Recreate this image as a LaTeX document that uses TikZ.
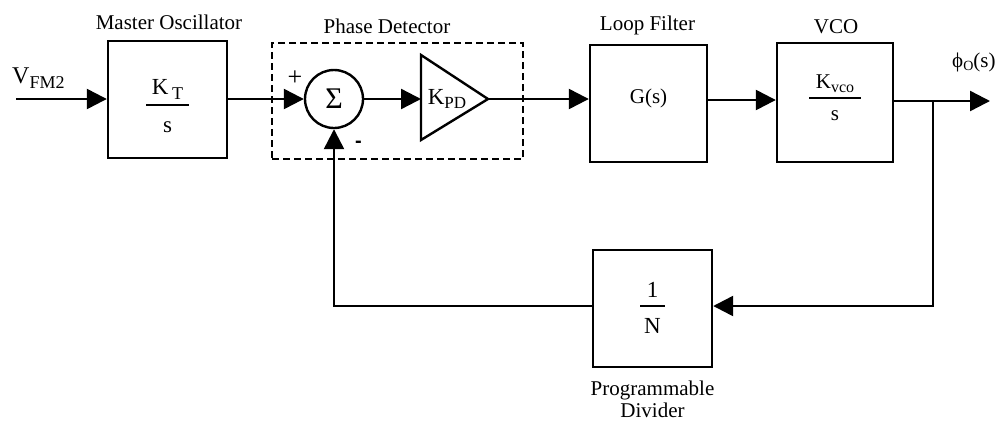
\documentclass[tikz,border=0pt]{standalone}
\usepackage{fontspec}
\setmainfont{Liberation Serif}
\newfontfamily\hyphfont{Liberation Sans}
\usetikzlibrary{arrows.meta}
\newcommand{\subtx}[3]{\raisebox{#2}{\fontsize{#3}{#3}\selectfont #1}}
\newcommand{\fr}[6]{\makebox[0pt]{\raisebox{#4}{#1}}\makebox[0pt]{\rule[\dimexpr#5-0.8pt\relax]{#3}{1.6pt}}\makebox[0pt]{\raisebox{#6}{#2}}}
\tikzset{
  blk/.style={draw, line width=2.4pt, inner sep=0pt, text height=0pt, text depth=0pt},
  lbl/.style={anchor=base, inner sep=0pt, font=\fontsize{21}{23}\selectfont},
  wire/.style={line width=2.4pt},
  arr/.style={wire, -{Triangle[length=20pt,width=20pt]}},
  dashbox/.style={draw, line width=2.2pt, dash pattern=on 7pt off 4pt, inner sep=0pt},
}
\begin{document}
\begin{tikzpicture}[x=1pt,y=-1pt]
\useasboundingbox (0,0) rectangle (1008,421);
\fill[white] (0,0) rectangle (1008,421);

% blocks
\node[blk, minimum width=119pt, minimum height=117pt, font=\fontsize{23}{25}\selectfont] (mo) at (167.5,99.5)
  {\fr{K\,\subtx{T}{-5pt}{18}}{s}{43pt}{5.5pt}{-5.5pt}{-32.5pt}};
\node[dashbox, minimum width=251pt, minimum height=116pt] (pd) at (397.5,101) {};
\node[draw, circle, wire, minimum size=58pt, inner sep=0pt, font=\fontsize{30}{30}\selectfont] (sum) at (334,99) {Σ};
\coordinate (ampin) at (421,99);
\coordinate (ampout) at (488,99);
\coordinate (amptop) at (421,55);
\coordinate (ampbot) at (421,140);
\draw[wire, line join=miter] (amptop) -- (ampout) -- (ampbot) -- cycle;
\node[inner sep=0pt, font=\fontsize{23}{25}\selectfont] (kpd) at (447,99) {K\subtx{PD}{-4pt}{17}};
\node[blk, minimum width=117pt, minimum height=117pt, font=\fontsize{21}{23}\selectfont] (lf) at (648.5,103.5)
  {\raisebox{0.5pt}{G(s)}};
\node[blk, minimum width=116pt, minimum height=119pt, font=\fontsize{21}{23}\selectfont] (vco) at (835,102.5)
  {\fr{K\subtx{vco}{-4pt}{16}}{s}{52pt}{14.5pt}{4.5pt}{-17.5pt}};
\node[blk, minimum width=119pt, minimum height=117pt, font=\fontsize{23}{25}\selectfont] (div) at (652.5,308.5)
  {\fr{1}{N}{25pt}{11.5pt}{2.5pt}{-24.5pt}};

% labels
\node[lbl] (molbl) at (169,29) {Master Oscillator};
\node[lbl] (pdlbl) at (387,33) {Phase Detector};
\node[lbl] (lflbl) at (647.5,30) {Loop Filter};
\node[lbl] (vcolbl) at (836,33) {VCO};
\node[lbl] (divlbl1) at (652.5,395) {Programmable};
\node[lbl] (divlbl2) at (652.5,417) {Divider};
\node[anchor=base west, inner sep=0pt] (vlbl) at (12,83) {{\fontsize{24}{26}\selectfont V}\subtx{FM2}{-5pt}{18}};
\node[anchor=base west, inner sep=0pt, font=\fontsize{21}{23}\selectfont] (philbl) at (952,67) {ϕ\subtx{O}{-3pt}{14}(s)};
\node[inner sep=0pt, font=\fontsize{26}{26}\selectfont] (plus) at (295,78.5) {+};
\node[inner sep=0pt, font=\hyphfont\bfseries\fontsize{20}{20}\selectfont] (minus) at (358.5,144) {-};

% connectors
\coordinate (vin) at (16,99);
\draw[arr] (vin) -- (vin -| mo.west);
\draw[arr] (mo.east |- sum) -- (sum.west);
\draw[arr] (sum.east) -- (ampin);
\draw[arr] (ampout) -- (ampout -| lf.west);
\coordinate (lfo) at ([yshift=3.5pt]lf.east);
\draw[arr] (lfo) -- (lfo -| vco.west);
\coordinate (vcoo) at ([yshift=1.5pt]vco.east);
\coordinate (out) at (990,101);
\draw[arr] (vcoo) -- (out);
\coordinate (br) at (933,101);
\coordinate (divin) at ([yshift=2.5pt]div.east);
\draw[arr] (br) |- (divin);
\coordinate (divout) at ([yshift=2.5pt]div.west);
\draw[arr] (divout) -| (sum.south);
\end{tikzpicture}
\end{document}
